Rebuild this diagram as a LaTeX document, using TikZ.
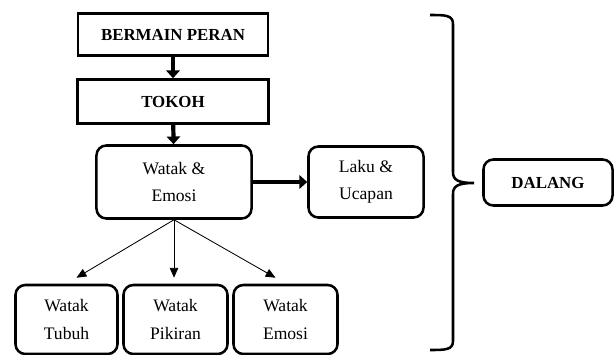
\documentclass[tikz,border=0pt]{standalone}
\usepackage{fontspec}
\setmainfont{Liberation Serif}
\usetikzlibrary{arrows.meta}

\tikzset{
  kotak/.style = {draw, line width=1.8pt, align=center, inner sep=0pt,
                  font=\fontsize{12}{19}\selectfont\bfseries},
  bulat/.style = {draw, line width=1.8pt, rounded corners=7pt, align=center, inner sep=0pt,
                  font=\fontsize{12.5}{19.5}\selectfont},
  tebal/.style = {line width=3pt, -{Triangle[length=5.5pt,width=9.5pt]}},
  tipis/.style = {line width=0.6pt, -{Triangle[length=7pt,width=6pt]}}
}

\begin{document}
\begin{tikzpicture}[x=0.025cm, y=-0.025cm]
		\useasboundingbox (0,0) rectangle (614,355);
		% kotak atas
		\node[kotak, minimum width=4.75cm, minimum height=1.05cm] (bermain) at (173,34.5) {BERMAIN PERAN};
		\node[kotak, minimum width=4.775cm, minimum height=1.1cm] (tokoh) at (173,101.5) {TOKOH};
		\node[bulat, minimum width=3.875cm, minimum height=1.825cm] (watak) at (174,182) {Watak \&\\Emosi};
		\node[bulat, minimum width=2.875cm, minimum height=1.775cm] (laku) at (366,182) {Laku \&\\Ucapan};
		\node[bulat, minimum width=3.225cm, minimum height=1.15cm, font=\fontsize{12}{19}\selectfont\bfseries] (dalang) at (548,182.5) {DALANG};
		% kotak bawah
		\node[bulat, minimum width=2.55cm, minimum height=1.725cm] (tubuh) at (66.5,319.5) {Watak\\Tubuh};
		\node[bulat, minimum width=2.6cm, minimum height=1.725cm] (pikiran) at (175.5,319.5) {Watak\\Pikiran};
		\node[bulat, minimum width=2.6cm, minimum height=1.725cm] (emosi) at (285.5,319.5) {Watak\\Emosi};
		% panah
		\draw[tebal] (bermain) -- (tokoh);
		\draw[tebal] (tokoh) -- (watak);
		\draw[tebal] (watak) -- (laku);
		\draw[tipis] (watak.south) -- ([xshift=0.25cm, yshift=0.15cm]tubuh.north);
		\draw[tipis] (watak.south) -- ([yshift=0.15cm]pikiran.north -| watak.south);
		\draw[tipis] (watak.south) -- ([xshift=-0.25cm, yshift=0.15cm]emosi.north);
		% kurung kurawal
		\draw[line width=1.8pt] (430,15) .. controls (445,15) and (453,15) .. (453,24)
			-- (453,172) .. controls (453,180) and (458,183) .. (474,183)
			.. controls (458,183) and (453,186) .. (453,194)
			-- (453,341) .. controls (453,350) and (445,350) .. (430,350);
	\end{tikzpicture}
\end{document}
